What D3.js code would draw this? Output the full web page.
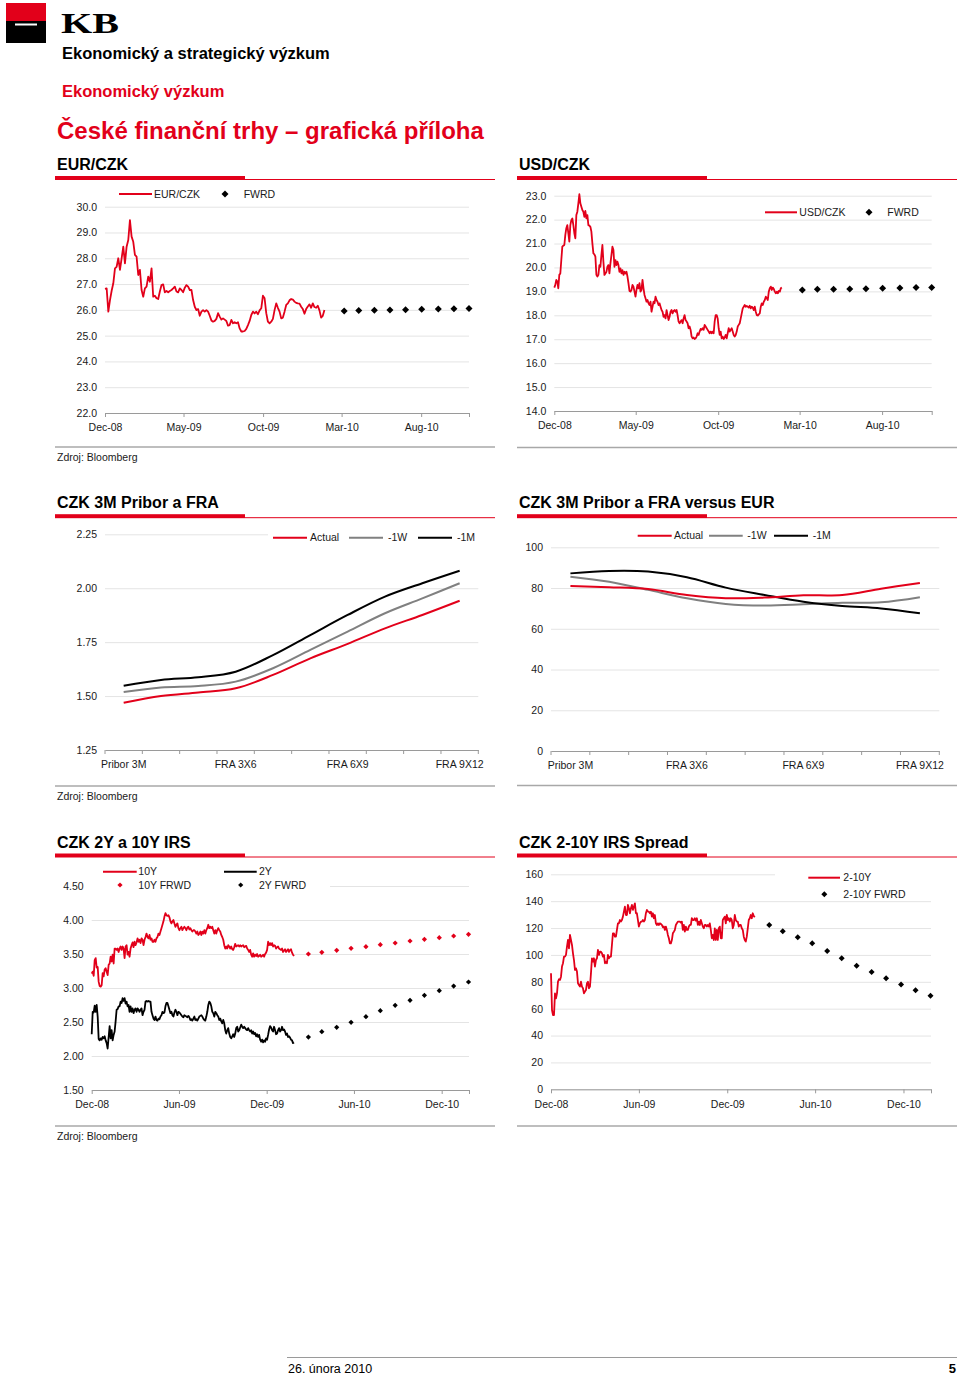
<!DOCTYPE html>
<html><head><meta charset="utf-8">
<script src="https://cdn.jsdelivr.net/npm/d3@7"></script>
<style>
body{margin:0;background:#fff}
svg{display:block}
text{font-family:"Liberation Sans",Arial,Helvetica,sans-serif}
</style>
</head><body>
<svg id="page" width="960" height="1375"></svg>
<script>
// ---------------- DATA ----------------
const seriesStart = "2008-12-01";
const seriesEnd = "2010-01-27";

const eurczkValues = [26.81,26.83,25.93,26.38,26.74,27.03,27.61,27.67,28.00,27.55,
28.00,28.45,27.80,28.45,28.71,29.48,28.84,28.64,28.13,28.06,
27.35,27.55,26.77,26.51,26.83,26.90,27.29,27.09,27.61,26.51,
26.55,26.45,26.42,26.71,26.96,26.99,26.68,26.73,26.68,26.73,
26.77,26.83,26.90,26.71,26.68,26.83,26.77,26.68,26.86,26.96,
26.90,26.77,26.77,26.38,26.12,25.99,26.03,25.77,25.93,25.99,
25.93,25.99,25.93,25.77,25.59,25.54,25.57,25.65,25.87,25.74,
25.62,25.67,25.62,25.57,25.39,25.41,25.61,25.48,25.52,25.48,
25.52,25.28,25.16,25.16,25.18,25.26,25.41,25.57,25.80,25.93,
25.86,25.93,25.83,25.98,26.06,26.55,26.45,25.87,25.54,25.48,
25.54,25.65,25.99,26.25,26.08,25.93,25.67,25.70,25.93,26.19,
26.25,26.37,26.42,26.40,26.32,26.27,26.25,26.24,26.12,26.03,
25.85,26.03,26.13,26.21,26.08,26.25,26.11,26.08,26.16,25.98,
25.70,25.77,25.99];
const fxFwdDates = ["2010-03-06","2010-04-03","2010-05-03","2010-06-02","2010-07-02","2010-08-02","2010-09-03","2010-10-03","2010-11-01"];
const eurFwdValues = [25.96,25.97,25.98,25.99,26.00,26.02,26.03,26.04,26.05];

const usdczkValues = [19.16,19.27,19.48,19.41,19.13,19.69,19.75,20.31,20.87,20.91,
20.94,21.36,21.64,21.77,21.43,21.08,21.77,21.98,22.05,21.77,
21.43,21.22,22.19,22.33,22.68,23.06,22.68,22.54,22.40,22.33,
22.12,22.36,22.05,22.19,21.77,21.75,21.70,21.50,21.01,20.59,
20.55,20.45,19.69,19.62,19.69,20.10,20.03,20.52,20.94,20.24,
19.69,19.75,19.82,20.03,20.10,19.75,20.17,20.52,20.87,20.73,
20.03,20.31,20.10,20.24,20.10,19.82,19.96,19.75,19.89,19.69,
19.82,19.75,19.82,19.62,19.34,19.02,18.99,19.06,19.27,19.20,
18.99,18.78,19.06,19.27,19.13,19.34,18.99,19.06,19.48,19.13,
18.85,18.71,18.57,18.64,18.50,18.43,18.57,18.15,18.36,18.57,
18.50,18.78,18.64,18.57,18.43,18.50,18.36,18.22,18.15,17.94,
18.01,17.87,18.22,18.01,17.80,17.94,18.15,18.22,18.08,18.18,
18.22,18.15,18.22,18.01,17.74,17.67,17.74,17.80,17.67,17.87,
18.01,17.80,17.74,17.67,17.46,17.53,17.39,17.11,17.04,17.07,
17.01,17.04,17.11,17.25,17.18,17.32,17.43,17.39,17.46,17.39,
17.60,17.53,17.46,17.39,17.32,17.25,17.32,17.25,17.32,17.25,
17.74,18.01,18.01,17.87,17.46,17.18,17.32,17.04,17.11,17.01,
17.07,17.18,17.04,17.25,17.46,17.32,17.39,17.46,17.32,17.18,
17.11,17.18,17.32,17.53,17.60,17.67,17.87,18.08,18.29,18.36,
18.43,18.36,18.39,18.36,18.32,18.40,18.29,18.36,18.32,18.22,
18.36,18.15,18.01,17.99,18.04,18.08,18.36,18.50,18.43,18.57,
18.64,18.78,18.71,18.64,18.99,19.13,19.20,19.06,19.16,19.10,
18.99,18.92,18.99,18.92,19.02,18.99,19.13,19.16];
const usdFwdValues = [19.06,19.09,19.09,19.10,19.11,19.13,19.14,19.16,19.16];

const fraCategories = ["Pribor 3M","FRA 1X4","FRA 2X5","FRA 3X6","FRA 4X7","FRA 5X8","FRA 6X9","FRA 7X10","FRA 8X11","FRA 9X12"];
const fraActual = [1.469,1.500,1.517,1.536,1.598,1.675,1.742,1.814,1.876,1.942];
const fra1W = [1.519,1.540,1.547,1.567,1.629,1.714,1.799,1.884,1.953,2.023];
const fra1M = [1.548,1.575,1.587,1.613,1.690,1.783,1.876,1.961,2.023,2.081];

const eurSpreadActual = [81.0,80.4,79.5,76.6,75.0,75.3,76.4,76.6,79.7,82.5];
const eurSpread1W = [85.6,83.1,79.1,75.0,72.2,71.4,72.0,72.8,73.0,75.5];
const eurSpread1M = [87.2,88.4,88.1,85.3,80.2,76.6,73.3,71.2,70.0,67.6];

const irs10YValues = [3.21,3.24,3.18,3.41,3.44,3.30,3.31,3.09,3.03,3.02,
3.04,3.22,3.17,3.27,3.29,3.24,3.19,3.34,3.36,3.46,
3.39,3.49,3.36,3.58,3.58,3.56,3.58,3.53,3.58,3.61,
3.56,3.61,3.58,3.44,3.61,3.63,3.49,3.53,3.46,3.58,
3.63,3.67,3.60,3.68,3.63,3.67,3.73,3.68,3.71,3.66,
3.73,3.71,3.63,3.71,3.75,3.80,3.75,3.73,3.78,3.71,
3.73,3.68,3.68,3.71,3.68,3.73,3.75,3.80,3.78,3.83,
3.88,3.93,3.98,4.05,4.10,4.07,4.06,4.07,4.04,3.98,
3.95,3.98,4.00,3.95,3.90,3.93,3.95,3.88,3.85,3.88,
3.90,3.85,3.88,3.90,3.88,3.85,3.89,3.90,3.86,3.88,
3.85,3.83,3.85,3.85,3.83,3.80,3.83,3.78,3.80,3.83,
3.78,3.83,3.80,3.85,3.80,3.85,3.88,3.93,3.88,3.90,
3.88,3.90,3.85,3.80,3.85,3.80,3.85,3.88,3.85,3.83,
3.78,3.75,3.71,3.63,3.58,3.61,3.58,3.63,3.61,3.58,
3.61,3.57,3.56,3.60,3.65,3.61,3.62,3.63,3.61,3.63,
3.61,3.62,3.63,3.60,3.61,3.62,3.58,3.56,3.53,3.56,
3.49,3.46,3.51,3.46,3.49,3.47,3.50,3.46,3.47,3.49,
3.46,3.47,3.49,3.46,3.50,3.52,3.56,3.68,3.63,3.66,
3.63,3.66,3.61,3.63,3.62,3.58,3.60,3.61,3.58,3.57,
3.56,3.58,3.53,3.55,3.57,3.53,3.55,3.57,3.53,3.56,
3.57,3.52,3.49,3.47];
const irs2YValues = [2.32,2.65,2.64,2.74,2.65,2.75,2.58,2.25,2.23,2.26,
2.24,2.28,2.26,2.29,2.23,2.19,2.11,2.28,2.44,2.26,
2.38,2.23,2.31,2.36,2.51,2.68,2.69,2.73,2.73,2.80,
2.78,2.85,2.81,2.85,2.77,2.80,2.73,2.75,2.65,2.73,
2.65,2.70,2.63,2.68,2.70,2.65,2.70,2.68,2.65,2.68,
2.70,2.60,2.65,2.68,2.80,2.81,2.80,2.81,2.80,2.80,
2.65,2.60,2.55,2.53,2.58,2.53,2.52,2.55,2.54,2.58,
2.60,2.65,2.63,2.64,2.73,2.78,2.78,2.73,2.68,2.63,
2.65,2.60,2.58,2.64,2.68,2.65,2.60,2.65,2.64,2.62,
2.60,2.58,2.57,2.60,2.59,2.58,2.57,2.59,2.57,2.53,
2.54,2.52,2.55,2.58,2.53,2.54,2.52,2.55,2.58,2.59,
2.60,2.58,2.55,2.53,2.52,2.58,2.65,2.75,2.80,2.78,
2.73,2.65,2.63,2.58,2.65,2.63,2.60,2.58,2.53,2.55,
2.51,2.48,2.53,2.48,2.38,2.33,2.38,2.41,2.33,2.28,
2.26,2.29,2.32,2.28,2.33,2.41,2.43,2.36,2.38,2.42,
2.46,2.43,2.41,2.43,2.41,2.39,2.38,2.41,2.38,2.36,
2.38,2.33,2.36,2.32,2.34,2.29,2.32,2.28,2.31,2.24,
2.21,2.24,2.20,2.23,2.21,2.26,2.24,2.31,2.39,2.44,
2.42,2.38,2.36,2.43,2.38,2.32,2.33,2.38,2.41,2.36,
2.38,2.43,2.38,2.39,2.36,2.31,2.33,2.28,2.29,2.27,
2.24,2.23,2.19,2.20];
const irsFwdDates = ["2010-02-26","2010-03-26","2010-04-26","2010-05-26","2010-06-26","2010-07-26","2010-08-26","2010-09-26","2010-10-26","2010-11-26","2010-12-26","2011-01-26"];
const irs10YFwdValues = [3.50,3.525,3.554,3.583,3.608,3.637,3.662,3.691,3.716,3.740,3.765,3.789];
const irs2YFwdValues = [2.279,2.358,2.422,2.495,2.578,2.667,2.745,2.819,2.892,2.961,3.029,3.088];

const spreadValues = [86.3,59.0,55.3,55.3,71.4,67.7,71.4,80.1,81.9,81.4,
83.8,91.3,93.8,98.7,98.7,100.0,106.2,111.1,104.9,114.9,
111.1,107.4,101.2,96.2,88.8,90.0,87.6,78.9,77.6,76.4,
80.1,76.4,75.2,71.4,72.7,73.9,78.9,80.1,75.2,76.4,
86.3,97.5,95.0,97.5,91.3,96.2,97.5,103.7,100.0,102.4,
102.4,101.2,98.7,100.0,93.8,95.0,93.8,100.0,97.5,98.7,
98.7,107.4,116.1,116.1,113.6,113.6,118.6,123.5,123.5,126.0,
124.8,126.0,128.5,132.2,135.9,129.7,129.7,137.2,134.7,131.0,
134.7,137.2,133.5,135.9,138.4,131.0,131.0,126.0,121.1,123.5,
124.8,124.8,126.0,124.8,126.0,131.0,133.5,132.2,132.2,131.0,
132.2,128.5,131.0,127.3,129.7,123.5,122.3,123.5,122.3,123.5,
123.0,122.3,120.6,121.1,118.6,121.1,118.6,114.9,112.4,108.6,
108.6,111.1,116.1,117.3,118.6,122.3,123.5,124.8,124.8,124.8,
124.0,124.8,118.6,122.3,117.3,121.1,118.6,118.6,121.1,122.3,
122.3,127.3,126.0,126.0,127.3,125.5,127.3,122.3,124.8,122.3,
126.0,123.5,121.1,119.8,122.3,122.3,121.1,122.3,121.1,123.5,
118.6,112.4,114.9,111.1,119.8,111.1,118.6,111.1,119.8,121.1,
112.4,112.4,126.0,127.3,128.5,123.5,129.7,126.0,127.3,124.8,
127.3,126.0,119.8,122.3,129.7,126.0,124.8,124.8,121.1,122.3,
122.3,119.8,118.6,113.6,111.1,109.9,113.6,119.8,126.0,127.3,
129.7,127.3,131.0,129.0,128.0];
const spreadFwdValues = [122.3,117.6,113.1,108.6,102.9,97.5,92.0,87.3,82.6,77.9,73.7,69.7];

const fxTicks = ["2008-12-01","2009-05-01","2009-10-01","2010-03-01","2010-08-01"];
const irsTicks = ["2008-12-01","2009-06-01","2009-12-01","2010-06-01","2010-12-01"];
const eurYTicks = [22,23,24,25,26,27,28,29,30];
const usdYTicks = [14,15,16,17,18,19,20,21,22,23];
const fraYTicks = [1.25,1.5,1.75,2.0,2.25];
const eurSpreadYTicks = [0,20,40,60,80,100];
const irsYTicks = [1.5,2.0,2.5,3.0,3.5,4.0,4.5];
const spreadYTicks = [0,20,40,60,80,100,120,140,160];

// ---------------- DRAWING ----------------
const RED = "#e2001a", GRID = "#e4e4e4", AXIS = "#9a9a9a", TXT = "#1a1a1a", GRAY = "#808080";
const parse = d3.timeParse("%Y-%m-%d");
const svg = d3.select("#page");
svg.append("rect").attr("width",960).attr("height",1375).attr("fill","#fff");

const diamondType = {draw(ctx, size){const r=Math.sqrt(size/2);ctx.moveTo(0,-r);ctx.lineTo(r,0);ctx.lineTo(0,r);ctx.lineTo(-r,0);ctx.closePath();}};
const diamond = r => d3.symbol().type(diamondType).size(2*r*r)();

function evenDates(a, b, n){
  const s = parse(a), e = parse(b);
  return d3.range(n).map(i => new Date(+s + (e - s) * i / (n - 1)));
}

function txt(x, y, s, o = {}){
  return svg.append("text").attr("x", x).attr("y", y).text(s)
    .attr("fill", o.fill || TXT).style("font-size", (o.size || 10.5) + "px")
    .style("font-weight", o.weight || "normal")
    .attr("text-anchor", o.anchor || "start").attr("dy", o.dy == null ? "0.35em" : o.dy);
}

// Header
svg.append("rect").attr("x",6).attr("y",3).attr("width",40).attr("height",18).attr("fill",RED);
svg.append("rect").attr("x",6).attr("y",21).attr("width",40).attr("height",22).attr("fill","#000");
svg.append("rect").attr("x",15).attr("y",23.5).attr("width",22).attr("height",2).attr("fill","#fff");
svg.append("text").attr("x",61).attr("y",33).text("KB").attr("fill","#000")
  .style("font-family","'Liberation Serif','Times New Roman',serif").style("font-weight","bold")
  .style("font-size","29px").attr("textLength",58).attr("lengthAdjust","spacingAndGlyphs");
txt(62, 59, "Ekonomický a strategický výzkum", {size:16.5, weight:"bold", dy:0, fill:"#000"});
txt(62, 97, "Ekonomický výzkum", {size:16.5, weight:"bold", dy:0, fill:RED});
txt(57, 139, "České finanční trhy – grafická příloha", {size:24, weight:"bold", dy:0, fill:RED});

function sectionTitle(x, titleY, ruleY, title){
  txt(x + 2, titleY, title, {size:16, weight:"bold", dy:0, fill:"#000"});
  svg.append("rect").attr("x", x).attr("y", ruleY - 2.5).attr("width", 190).attr("height", 4).attr("fill", RED);
  svg.append("line").attr("x1", x + 190).attr("x2", x + 440).attr("y1", ruleY + 1).attr("y2", ruleY + 1)
    .attr("stroke", RED).attr("stroke-width", 1);
}
function bottomRule(x, y, source){
  svg.append("line").attr("x1", x).attr("x2", x + 440).attr("y1", y).attr("y2", y)
    .attr("stroke", "#a8a8a8").attr("stroke-width", 1.5);
  if (source) txt(x + 2, y + 14, "Zdroj: Bloomberg", {size:10.5, dy:0});
}

sectionTitle(55, 169.5, 178.5, "EUR/CZK");
sectionTitle(517, 169.5, 178.5, "USD/CZK");
sectionTitle(55, 508, 516.7, "CZK 3M Pribor a FRA");
sectionTitle(517, 508, 516.7, "CZK 3M Pribor a FRA versus EUR");
sectionTitle(55, 847.5, 856, "CZK 2Y a 10Y IRS");
sectionTitle(517, 847.5, 856, "CZK 2-10Y IRS Spread");
bottomRule(55, 447, true); bottomRule(517, 447.5, false);
bottomRule(55, 786, true); bottomRule(517, 785.5, false);
bottomRule(55, 1126, true); bottomRule(517, 1126, false);

function yGrid(g, y, x0, x1, ticks, fmt){
  const ya = g.append("g").attr("transform", `translate(${x0},0)`)
    .call(d3.axisLeft(y).tickValues(ticks).tickFormat(d3.format(fmt)).tickSize(-(x1 - x0)).tickPadding(8));
  ya.select(".domain").remove();
  ya.attr("font-family", null).attr("font-size", null);
  ya.selectAll("line").attr("stroke", GRID);
  ya.selectAll("text").attr("fill", TXT).style("font-size", "10.5px");
}

function timeChart(o){
  const end = parse(o.d1);
  const x = d3.scaleTime().domain([parse(o.d0), end]).range([o.x0, o.x1]);
  const y = d3.scaleLinear().domain(o.ydom).range([o.yb, o.yt]);
  const g = svg.append("g");
  yGrid(g, y, o.x0, o.x1, o.yticks, o.yfmt);
  const fmt = d3.timeFormat("%b-%y");
  const xa = g.append("g").attr("transform", `translate(0,${o.yb})`)
    .call(d3.axisBottom(x).tickValues(o.xticks.map(parse).concat([end]))
      .tickFormat(d => +d === +end ? "" : fmt(d)).tickSize(4).tickSizeOuter(0).tickPadding(7));
  xa.attr("font-family", null).attr("font-size", null);
  xa.select(".domain").attr("stroke", AXIS);
  xa.selectAll("line").attr("stroke", AXIS);
  xa.selectAll("text").attr("fill", TXT).style("font-size", "10.5px");
  return {x, y, g};
}

function drawSeries(c, dates, values, color){
  c.g.append("path").datum(values.map((v, i) => [dates[i], v]))
    .attr("fill", "none").attr("stroke", color).attr("stroke-width", 1.8).attr("stroke-linejoin", "round")
    .attr("d", d3.line().x(d => c.x(d[0])).y(d => c.y(d[1])));
}
function drawFwd(c, dates, values, color, r){
  c.g.selectAll(null).data(values).join("path")
    .attr("transform", (v, i) => `translate(${c.x(parse(dates[i]))},${c.y(v)})`)
    .attr("d", diamond(r)).attr("fill", color);
}
function legLine(x1, x2, y, color){
  svg.append("line").attr("x1", x1).attr("x2", x2).attr("y1", y).attr("y2", y)
    .attr("stroke", color).attr("stroke-width", 2);
}
function legDiamond(x, y, color, r){
  svg.append("path").attr("transform", `translate(${x},${y})`).attr("d", diamond(r)).attr("fill", color);
}

// EUR/CZK
const eurDates = evenDates(seriesStart, seriesEnd, eurczkValues.length);
const eur = timeChart({x0:105, x1:469, yb:413, yt:206.7, d0:"2008-12-01", d1:"2010-11-01",
  ydom:[22,30], yticks:eurYTicks, yfmt:".1f", xticks:fxTicks});
drawSeries(eur, eurDates, eurczkValues, RED);
drawFwd(eur, fxFwdDates, eurFwdValues, "#000", 3.5);
legLine(119, 152, 194, RED); txt(154, 194, "EUR/CZK");
legDiamond(225, 194, "#000", 3.5); txt(243.7, 194, "FWRD");

// USD/CZK
const usdDates = evenDates(seriesStart, seriesEnd, usdczkValues.length);
const usd = timeChart({x0:554.3, x1:931.7, yb:411, yt:195.7, d0:"2008-12-01", d1:"2010-11-01",
  ydom:[14,23], yticks:usdYTicks, yfmt:".1f", xticks:fxTicks});
drawSeries(usd, usdDates, usdczkValues, RED);
drawFwd(usd, fxFwdDates, usdFwdValues, "#000", 3.5);
legLine(765, 797, 212.3, RED); txt(799.3, 212.3, "USD/CZK");
legDiamond(869, 212.3, "#000", 3.5); txt(887.3, 212.3, "FWRD");

// Category charts
function catChart(o){
  const x = d3.scaleBand().domain(fraCategories).range([o.x0, o.x1]).padding(0);
  const y = d3.scaleLinear().domain(o.ydom).range([o.yb, o.yt]);
  const g = svg.append("g");
  yGrid(g, y, o.x0, o.x1, o.yticks, o.yfmt);
  const xa = g.append("g").attr("transform", `translate(0,${o.yb})`)
    .call(d3.axisBottom(x).tickFormat((d, i) => i % 3 === 0 ? d : "").tickSize(0).tickSizeOuter(0).tickPadding(11));
  xa.attr("font-family", null).attr("font-size", null);
  xa.select(".domain").attr("stroke", AXIS);
  xa.selectAll("text").attr("fill", TXT).style("font-size", "10.5px");
  g.selectAll(null).data(fraCategories.map(c => x(c)).concat([o.x1])).join("line")
    .attr("x1", d => d).attr("x2", d => d).attr("y1", o.yb).attr("y2", o.yb + 4).attr("stroke", AXIS);
  return {x, y, g};
}
function catLine(c, values, color){
  c.g.append("path").datum(values).attr("fill", "none").attr("stroke", color).attr("stroke-width", 2)
    .attr("d", d3.line().x((v, i) => c.x(fraCategories[i]) + c.x.bandwidth() / 2).y(v => c.y(v))
      .curve(d3.curveCatmullRom.alpha(0.5)));
}

const fraL = catChart({x0:105, x1:478.3, yb:750, yt:534.3, ydom:[1.25,2.25], yticks:fraYTicks, yfmt:".2f"});
svg.append("rect").attr("x", 268).attr("y", 529).attr("width", 212).attr("height", 16).attr("fill", "#fff");
catLine(fraL, fra1W, GRAY); catLine(fraL, fra1M, "#000"); catLine(fraL, fraActual, RED);
legLine(273, 307, 537.7, RED); txt(310, 537.7, "Actual");
legLine(349, 383, 537.7, GRAY); txt(388, 537.7, "-1W");
legLine(418, 452, 537.7, "#000"); txt(457, 537.7, "-1M");

const fraR = catChart({x0:551, x1:939.3, yb:751, yt:547.3, ydom:[0,100], yticks:eurSpreadYTicks, yfmt:"d"});
catLine(fraR, eurSpread1W, GRAY); catLine(fraR, eurSpread1M, "#000"); catLine(fraR, eurSpreadActual, RED);
legLine(637.7, 671.7, 535.7, RED); txt(674, 535.7, "Actual");
legLine(709, 742.7, 535.7, GRAY); txt(747.3, 535.7, "-1W");
legLine(774, 808, 535.7, "#000"); txt(812.7, 535.7, "-1M");

// IRS
const irsDates = evenDates(seriesStart, seriesEnd, irs10YValues.length);
const irs2Dates = evenDates(seriesStart, seriesEnd, irs2YValues.length);
const irs = timeChart({x0:91.7, x1:469, yb:1090, yt:886, d0:"2008-12-01", d1:"2011-01-27",
  ydom:[1.5,4.5], yticks:irsYTicks, yfmt:".2f", xticks:irsTicks});
svg.append("rect").attr("x", 90).attr("y", 864).attr("width", 240).attr("height", 28).attr("fill", "#fff");
drawSeries(irs, irsDates, irs10YValues, RED);
drawSeries(irs, irs2Dates, irs2YValues, "#000");
drawFwd(irs, irsFwdDates, irs10YFwdValues, RED, 2.6);
drawFwd(irs, irsFwdDates, irs2YFwdValues, "#000", 2.6);
legLine(103, 136.7, 871.7, RED); txt(138.3, 871.7, "10Y");
legDiamond(120, 885, RED, 2.6); txt(138.3, 885, "10Y FRWD");
legLine(224, 256.7, 871.7, "#000"); txt(259, 871.7, "2Y");
legDiamond(240.7, 885, "#000", 2.6); txt(259, 885, "2Y FWRD");

// Spread
const spreadDates = evenDates(seriesStart, seriesEnd, spreadValues.length);
const spr = timeChart({x0:551, x1:931, yb:1089.3, yt:874.3, d0:"2008-12-01", d1:"2011-01-27",
  ydom:[0,160], yticks:spreadYTicks, yfmt:"d", xticks:irsTicks});
svg.append("rect").attr("x", 775).attr("y", 867).attr("width", 158).attr("height", 32).attr("fill", "#fff");
drawSeries(spr, spreadDates, spreadValues, RED);
drawFwd(spr, irsFwdDates, spreadFwdValues, "#000", 3);
legLine(808.3, 840, 877.7, RED); txt(843.3, 877.7, "2-10Y");
legDiamond(824.3, 894.3, "#000", 3); txt(843.3, 894.3, "2-10Y FWRD");

// Footer
svg.append("line").attr("x1", 287).attr("x2", 957).attr("y1", 1357.5).attr("y2", 1357.5)
  .attr("stroke", "#9a9a9a").attr("stroke-width", 1);
txt(288, 1373, "26. února 2010", {size:12.5, dy:0, fill:"#000"});
txt(956, 1373, "5", {size:13, weight:"bold", dy:0, anchor:"end", fill:"#000"});
</script>
</body></html>
